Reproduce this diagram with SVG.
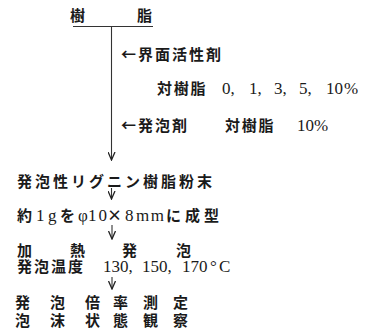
<svg xmlns="http://www.w3.org/2000/svg" width="369" height="332" viewBox="0 0 369 332">
<defs>
<marker id="ah" viewBox="0 0 9 8" refX="8.5" refY="4" markerWidth="9" markerHeight="8" markerUnits="userSpaceOnUse" orient="auto">
<path d="M0.5,0.5 L8.5,4 L0.5,7.5" fill="none" stroke="#222" stroke-width="1.3"/>
</marker>
<style>
text { font-family: "Liberation Serif", "Noto Sans CJK JP", serif; font-size: 15px; fill: #1a1a1a; }
.j { font-family: "Noto Sans CJK JP", sans-serif; font-weight: bold; }
.n { font-family: "Liberation Serif", serif; font-size: 17px; }
.c { stroke: #333; stroke-width: 1.1; fill: none; }
</style>
</defs>
<rect width="369" height="332" fill="#fff"/>
<g id="connectors">
<line class="c" x1="73" y1="26.5" x2="153" y2="26.5" stroke-width="1.3"/>
<line class="c" x1="111.5" y1="27" x2="111.5" y2="160" marker-end="url(#ah)"/>
<line class="c" x1="111.5" y1="188" x2="111.5" y2="199" marker-end="url(#ah)"/>
<line class="c" x1="112" y1="225" x2="112" y2="239" marker-end="url(#ah)"/>
<line class="c" x1="112" y1="277" x2="112" y2="289" marker-end="url(#ah)"/>
</g>
<g id="resin">
<text class="j" x="70" y="20.5">樹</text>
<text class="j" x="137" y="20.5">脂</text>
</g>
<g id="surfactant">
<text class="j" x="121" y="59.5" letter-spacing="2">←界面活性剤</text>
<text y="93.5"><tspan class="j" x="157" letter-spacing="1.7">対樹脂</tspan><tspan class="n" x="222">0,</tspan><tspan class="n" x="249">1,</tspan><tspan class="n" x="274">3,</tspan><tspan class="n" x="299">5,</tspan><tspan class="n" x="326">10</tspan><tspan class="n" x="344" font-size="18">%</tspan></text>
</g>
<g id="foaming-agent">
<text class="j" x="121" y="130.5" letter-spacing="2">←発泡剤</text>
<text y="130.5"><tspan class="j" x="225" letter-spacing="1.7">対樹脂</tspan><tspan class="n" x="297">10</tspan><tspan class="n" x="314" font-size="18">%</tspan></text>
</g>
<g id="powder">
<text class="j" x="17" y="187" font-size="16" letter-spacing="3">発泡性リグニン樹脂粉末</text>
</g>
<g id="molding">
<text y="221"><tspan class="j" x="17">約</tspan><tspan class="n" x="36">1</tspan><tspan class="n" x="48">g</tspan><tspan class="j" x="60">を</tspan><tspan class="n" x="78">φ</tspan><tspan class="n" x="88" letter-spacing="2">10</tspan><tspan class="j" x="107">×</tspan><tspan class="n" x="125">8</tspan><tspan class="n" x="136" letter-spacing="1.5">mm</tspan><tspan class="j" x="166">に</tspan><tspan class="j" x="185" letter-spacing="4">成型</tspan></text>
</g>
<g id="heating">
<text class="j" y="255.5"><tspan x="17">加</tspan><tspan x="70">熱</tspan><tspan x="122">発</tspan><tspan x="176">泡</tspan></text>
<text y="272"><tspan class="j" x="17" letter-spacing="2">発泡温度</tspan><tspan class="n" x="103">130,</tspan><tspan class="n" x="142">150,</tspan><tspan class="n" x="182">170</tspan><tspan class="n" x="210">°</tspan><tspan class="n" x="219" font-size="19">C</tspan></text>
</g>
<g id="measurement">
<text class="j" y="307.5"><tspan x="15">発</tspan><tspan x="50">泡</tspan><tspan x="85">倍</tspan><tspan x="113">率</tspan><tspan x="143">測</tspan><tspan x="173">定</tspan></text>
<text class="j" y="325.5"><tspan x="15">泡</tspan><tspan x="50">沫</tspan><tspan x="85">状</tspan><tspan x="113">態</tspan><tspan x="143">観</tspan><tspan x="173">察</tspan></text>
</g>
</svg>
